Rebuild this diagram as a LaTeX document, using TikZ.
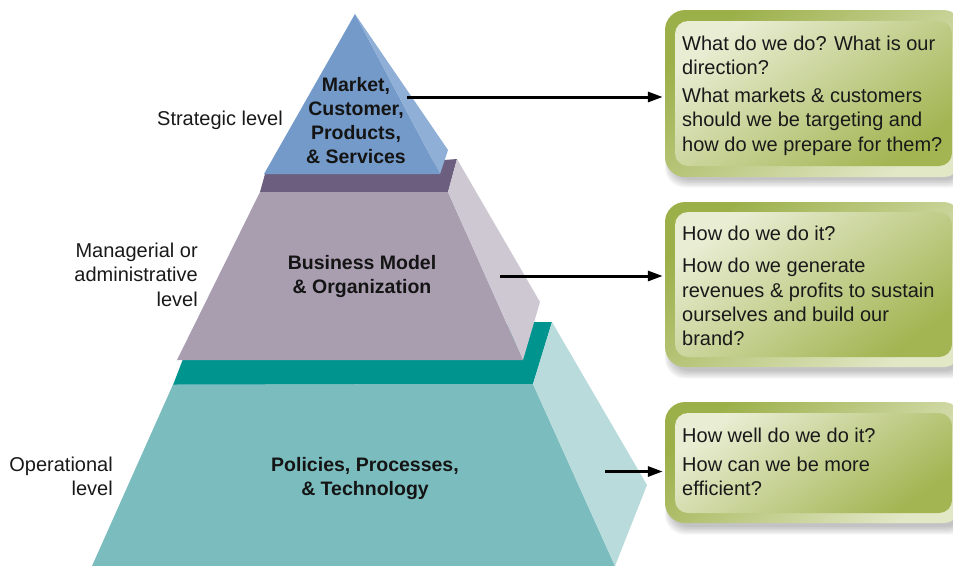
\documentclass[tikz,border=0pt]{standalone}
\usepackage{fontspec}
\setmainfont{Liberation Sans}
\usetikzlibrary{arrows.meta}
\definecolor{bluefront}{HTML}{739AC9}
\definecolor{blueside}{HTML}{8FAFD7}
\definecolor{purpleband}{HTML}{6B5E7E}
\definecolor{purplefront}{HTML}{A99DB0}
\definecolor{purpleside}{HTML}{CEC8D2}
\definecolor{tealband}{HTML}{00948F}
\definecolor{tealfront}{HTML}{7BBDBF}
\definecolor{tealside}{HTML}{B9DBDC}
\definecolor{boxgreen}{HTML}{9CB04A}
\definecolor{boxpale}{HTML}{E2E7C6}
\definecolor{innerpale}{HTML}{E9EDD3}
\definecolor{innergreen}{HTML}{A3B553}
\begin{document}
\begin{tikzpicture}[x=1pt,y=-1pt,
  outerbox/.style={top color=boxgreen, bottom color=boxpale, shading angle=40, rounded corners=20pt, inner sep=0pt, minimum width=298pt},
  innerbox/.style={top color=innerpale, bottom color=innergreen, shading angle=35, rounded corners=13pt, inner sep=0pt, minimum width=277pt},
  boxtext/.style={anchor=north west, inner sep=0pt, align=left, font=\fontsize{20}{24.3}\selectfont, text=black!90},
  ptext/.style={anchor=north, inner sep=0pt, align=center, font=\bfseries\fontsize{19.5}{24}\selectfont, text=black!92},
  lvltext/.style={anchor=north east, inner sep=0pt, align=right, font=\fontsize{20}{24.5}\selectfont, text=black!90},
  arr/.style={line width=3pt, -{Triangle[length=15pt,width=10pt]}, shorten >=2pt},
  shadowlayer/.style={black, opacity=0.045, rounded corners=20pt}
]
\useasboundingbox (0,0) rectangle (953,565);
\clip (0,0) rectangle (953,565);

% pyramid
\fill[tealband] (173,385) -- (183,359) -- (533,322) -- (552,322) -- (533,384) -- cycle;
\fill[tealfront] (173,384.5) -- (533,384) -- (615,566) -- (92,566) -- cycle;
\fill[tealside] (533,384) -- (552,322) -- (647,485) -- (615,566) -- cycle;
\fill[purpleband] (260,192) -- (265,174) -- (457,159) -- (448,192) -- cycle;
\fill[purplefront] (260,192) -- (448,192) -- (523,360) -- (177,360) -- cycle;
\fill[purpleside] (448,192) -- (457,159) -- (540,302) -- (523,360) -- cycle;
\fill[bluefront] (355,14) -- (440,174) -- (264,174) -- cycle;
\fill[blueside] (355,14) -- (448,150) -- (440,174) -- cycle;

\node[ptext] (tier1) at (356,74.7) {\strut Market,\\Customer,\\Products,\\\& Services};
\node[ptext] (tier2) at (362,252.5) {\strut Business Model\\\& Organization};
\node[ptext] (tier3) at (365,454.2) {\strut Policies, Processes,\\\& Technology};

\node[lvltext] (lv1) at (283,107.85) {\strut Strategic level};
\node[lvltext] (lv2) at (198,239.85) {\strut Managerial or\\administrative\\level};
\node[lvltext] (lv3) at (113,453.85) {\strut Operational\\level};

% shadows
\foreach \k in {0,...,5}{
  \fill[shadowlayer] (670-\k,14) rectangle (965+\k,180+1.5*\k);
  \fill[shadowlayer] (670-\k,206) rectangle (965+\k,371+1.5*\k);
  \fill[shadowlayer] (670-\k,406) rectangle (965+\k,527+1.5*\k);
}

% boxes
\node[outerbox, minimum height=167pt] (box1) at (814,93.5) {};
\node[innerbox, minimum height=145pt] (in1) at (813.5,93.5) {};
\node[boxtext] (q1) at (682,33) {\strut What do we do? What is our\\direction?\\[3.7pt]What markets \& customers\\should we be targeting and\\how do we prepare for them?};

\node[outerbox, minimum height=165pt] (box2) at (814,284.5) {};
\node[innerbox, minimum height=145pt] (in2) at (813.5,284.5) {};
\node[boxtext] (q2) at (682,223) {\strut How do we do it?\\[8.4pt]How do we generate\\revenues \& profits to sustain\\ourselves and build our\\brand?};

\node[outerbox, minimum height=121pt] (box3) at (814,462.5) {};
\node[innerbox, minimum height=100pt] (in3) at (813.5,463) {};
\node[boxtext] (q3) at (682,425) {\strut How well do we do it?\\[5.1pt]How can we be more\\efficient?};

% arrows
\coordinate (s1) at (407,97);
\coordinate (s2) at (500,276);
\coordinate (s3) at (605,471.5);
\draw[arr] (s1) -- (s1 -| box1.west);
\draw[arr] (s2) -- (s2 -| box2.west);
\draw[arr] (s3) -- (s3 -| box3.west);
\end{tikzpicture}
\end{document}
